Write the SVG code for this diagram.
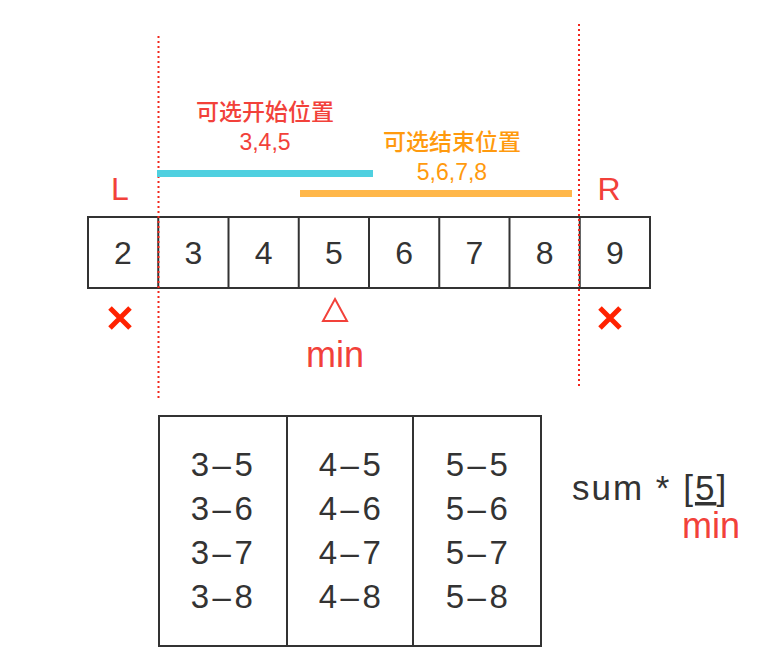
<svg xmlns="http://www.w3.org/2000/svg" width="782" height="670" viewBox="0 0 782 670">
<style>
.cell{fill:#fff;stroke:#333;stroke-width:2}
.num{font-family:"Liberation Sans",Arial,sans-serif;font-size:32px;fill:#333;text-anchor:middle}
.red{fill:#f2413a}
.lbl{font-family:"Liberation Sans","Noto Sans CJK SC",sans-serif;font-size:23px;font-weight:500;text-anchor:middle}
.dot{stroke:#f2261b;stroke-width:2;stroke-dasharray:2 3}
.big{font-family:"Liberation Sans",Arial,sans-serif;font-size:33px;fill:#333;text-anchor:middle;letter-spacing:3.5px}
.sum{font-family:"Liberation Sans",Arial,sans-serif;font-size:35px;fill:#333;letter-spacing:2px}
.min{font-family:"Liberation Sans",Arial,sans-serif;font-size:36px;fill:#f2413a;text-anchor:middle}
</style>
<rect width="782" height="670" fill="#fff"/>
<g id="cells">
<rect class="cell" x="88" y="217" width="562" height="71"/>
<line x1="158.25" y1="217" x2="158.25" y2="288" stroke="#333" stroke-width="2"/>
<line x1="228.5" y1="217" x2="228.5" y2="288" stroke="#333" stroke-width="2"/>
<line x1="298.75" y1="217" x2="298.75" y2="288" stroke="#333" stroke-width="2"/>
<line x1="369" y1="217" x2="369" y2="288" stroke="#333" stroke-width="2"/>
<line x1="439.25" y1="217" x2="439.25" y2="288" stroke="#333" stroke-width="2"/>
<line x1="509.5" y1="217" x2="509.5" y2="288" stroke="#333" stroke-width="2"/>
<line x1="579.75" y1="217" x2="579.75" y2="288" stroke="#333" stroke-width="2"/>
<text class="num" x="123" y="264">2</text>
<text class="num" x="193.4" y="264">3</text>
<text class="num" x="263.6" y="264">4</text>
<text class="num" x="333.9" y="264">5</text>
<text class="num" x="404.1" y="264">6</text>
<text class="num" x="474.4" y="264">7</text>
<text class="num" x="544.6" y="264">8</text>
<text class="num" x="614.9" y="264">9</text>
</g>
<g id="connectors">
<line class="dot" x1="158.5" y1="36" x2="158.5" y2="400"/>
<line class="dot" x1="579" y1="24" x2="579" y2="388"/>
<line x1="157" y1="173.5" x2="373" y2="173.5" stroke="#4fd0e0" stroke-width="7"/>
<line x1="300" y1="193.5" x2="572" y2="193.5" stroke="#ffb74a" stroke-width="7"/>
</g>
<g id="labels">
<text class="lbl red" x="265" y="120">可选开始位置</text>
<text class="lbl red" x="265" y="150">3,4,5</text>
<text class="lbl" x="452" y="150" fill="#ff9a0e">可选结束位置</text>
<text class="lbl" x="452" y="180" fill="#ff9a0e">5,6,7,8</text>
<text class="num red" x="120" y="200">L</text>
<text class="num red" x="609" y="200">R</text>
</g>
<g id="marks">
<path d="M110 308 L130 328 M130 308 L110 328" stroke="#ff2200" stroke-width="5"/>
<path d="M600 308 L620 328 M620 308 L600 328" stroke="#ff2200" stroke-width="5"/>
<polygon points="335,299 347,321 323,321" fill="none" stroke="#f2413a" stroke-width="2"/>
<text class="min" x="335" y="367">min</text>
</g>
<g id="table">
<rect class="cell" x="159" y="416" width="382" height="230"/>
<line x1="287" y1="416" x2="287" y2="646" stroke="#333" stroke-width="2"/>
<line x1="413" y1="416" x2="413" y2="646" stroke="#333" stroke-width="2"/>
<text class="big" x="223.5" y="476">3–5</text>
<text class="big" x="223.5" y="520">3–6</text>
<text class="big" x="223.5" y="564">3–7</text>
<text class="big" x="223.5" y="608">3–8</text>
<text class="big" x="351.5" y="476">4–5</text>
<text class="big" x="351.5" y="520">4–6</text>
<text class="big" x="351.5" y="564">4–7</text>
<text class="big" x="351.5" y="608">4–8</text>
<text class="big" x="478.5" y="476">5–5</text>
<text class="big" x="478.5" y="520">5–6</text>
<text class="big" x="478.5" y="564">5–7</text>
<text class="big" x="478.5" y="608">5–8</text>
</g>
<g id="formula">
<text class="sum" x="572" y="500">sum * [<tspan text-decoration="underline">5</tspan>]</text>
<text class="min" x="740" y="538" style="text-anchor:end">min</text>
</g>
</svg>
